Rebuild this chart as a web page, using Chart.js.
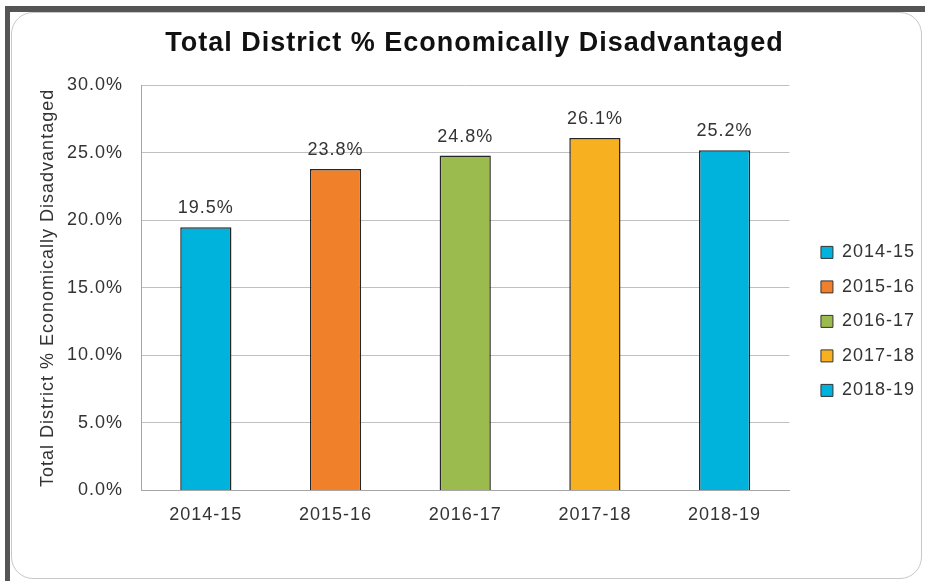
<!DOCTYPE html>
<html>
<head>
<meta charset="utf-8">
<script src="https://cdn.jsdelivr.net/npm/chart.js@4.4.1/dist/chart.umd.min.js"></script>
<style>
    body { margin: 0; background: #fff; }
    .frame {
        position: absolute; left: 5px; top: 6px; width: 920px; height: 575px;
        border-top: 6px solid #555; border-left: 5px solid #555; box-sizing: border-box;
    }
    .panel {
        position: absolute; left: 11px; top: 12px; width: 911px; height: 567px;
        border: 1px solid #c8c8c8; border-radius: 22px; box-sizing: border-box; background: #fff;
    }
    #econChart { position: absolute; left: 0; top: 0; }
</style>
</head>
<body>
<div class="frame"></div>
<div class="panel"></div>
<canvas id="econChart" width="925" height="581"></canvas>
<script>
// School years and % economically disadvantaged
const years = ['2014-15', '2015-16', '2016-17', '2017-18', '2018-19'];
const pctDisadvantaged = [19.5, 23.8, 24.8, 26.1, 25.2];
const barColors = ['#00B3DD', '#F0802A', '#9BBB4F', '#F6B020', '#00B3DD'];
const yTicks = [0, 5, 10, 15, 20, 25, 30];

const FONT = "'Liberation Sans', Arial, sans-serif";

// the original (Excel) text is slightly letter-spaced
const spacing = {
    id: 'spacing',
    beforeUpdate(chart) { chart.ctx.letterSpacing = '1px'; },
    beforeDraw(chart) { chart.ctx.letterSpacing = '1px'; }
};

// value labels above each bar
const barLabels = {
    id: 'barLabels',
    afterDatasetsDraw(chart) {
        const ctx = chart.ctx;
        const meta = chart.getDatasetMeta(0);
        ctx.save();
        ctx.font = '18px ' + FONT;
        ctx.fillStyle = '#333';
        ctx.textAlign = 'center';
        ctx.textBaseline = 'middle';
        meta.data.forEach(function(bar, i) {
            ctx.fillText(pctDisadvantaged[i].toFixed(1) + '%', bar.x, bar.y - 19);
        });
        ctx.restore();
    }
};

new Chart(document.getElementById('econChart').getContext('2d'), {
    type: 'bar',
    data: {
        labels: years,
        datasets: [{
            label: 'Total District % Economically Disadvantaged',
            data: pctDisadvantaged,
            backgroundColor: barColors,
            borderColor: '#262626',
            borderWidth: 1.5,
            barPercentage: 0.395,
            categoryPercentage: 1
        }]
    },
    options: {
        responsive: false,
        animation: false,
        layout: {
            padding: { top: 20, left: 24, right: 0, bottom: 41 }
        },
        plugins: {
            title: {
                display: true,
                text: 'Total District % Economically Disadvantaged',
                color: '#111',
                font: { family: FONT, size: 27, weight: 'bold' },
                padding: { top: 7, bottom: 26 }
            },
            legend: {
                position: 'right',
                fullSize: false,
                title: {
                    display: true,
                    text: ' ',
                    font: { size: 10 },
                    padding: { top: 55, bottom: 0 }
                },
                labels: {
                    boxWidth: 12,
                    boxHeight: 12,
                    padding: 16.5,
                    color: '#333',
                    font: { family: FONT, size: 18 },
                    generateLabels: function() {
                        return years.map(function(y, i) {
                            return {
                                text: y,
                                fillStyle: barColors[i],
                                strokeStyle: '#333',
                                lineWidth: 1,
                                fontColor: '#333',
                                index: i
                            };
                        });
                    }
                }
            },
            tooltip: { enabled: false }
        },
        scales: {
            x: {
                grid: { display: false, drawTicks: false },
                border: { color: '#a6a6a6', width: 1 },
                ticks: {
                    color: '#333',
                    padding: 14,
                    font: { family: FONT, size: 18 }
                }
            },
            y: {
                min: yTicks[0],
                max: yTicks[yTicks.length - 1],
                grid: { color: '#c0c0c0', drawTicks: false },
                border: { color: '#a6a6a6', width: 1 },
                afterBuildTicks: function(scale) {
                    scale.ticks = yTicks.map(function(v) { return { value: v }; });
                },
                afterFit: function(scale) { scale.width = 117; },
                ticks: {
                    color: '#333',
                    padding: 18,
                    font: { family: FONT, size: 18 },
                    callback: function(v) { return v.toFixed(1) + '%'; }
                },
                title: {
                    display: true,
                    text: 'Total District % Economically Disadvantaged',
                    color: '#333',
                    font: { family: FONT, size: 18 },
                    padding: { top: 13, bottom: 0 }
                }
            },
            gap: {
                type: 'linear',
                axis: 'y',
                position: 'right',
                grid: { display: false, drawTicks: false },
                border: { display: false },
                ticks: { display: false },
                afterFit: function(scale) { scale.width = 15; }
            }
        }
    },
    plugins: [spacing, barLabels]
});
</script>
</body>
</html>
